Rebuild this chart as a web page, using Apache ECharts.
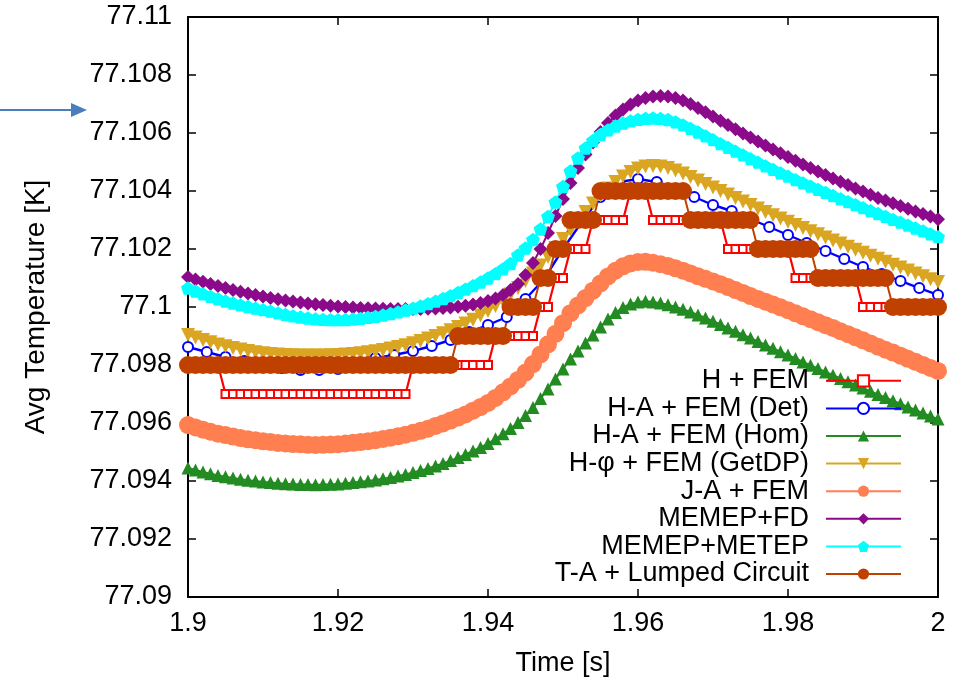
<!DOCTYPE html>
<html>
<head>
<meta charset="utf-8">
<script src="https://cdn.jsdelivr.net/npm/echarts@6/dist/echarts.min.js"></script>
<style>
  html, body { margin: 0; padding: 0; background: #ffffff; }
  #chart { width: 960px; height: 685px; }
</style>
</head>
<body>
<div id="chart"></div>
<script>
// Sample times [s]: 1 ms output step and 2.5 ms output step
const timeFine = [
  1.900, 1.901, 1.902, 1.903, 1.904, 1.905, 1.906, 1.907, 1.908, 1.909,
  1.910, 1.911, 1.912, 1.913, 1.914, 1.915, 1.916, 1.917, 1.918, 1.919,
  1.920, 1.921, 1.922, 1.923, 1.924, 1.925, 1.926, 1.927, 1.928, 1.929,
  1.930, 1.931, 1.932, 1.933, 1.934, 1.935, 1.936, 1.937, 1.938, 1.939,
  1.940, 1.941, 1.942, 1.943, 1.944, 1.945, 1.946, 1.947, 1.948, 1.949,
  1.950, 1.951, 1.952, 1.953, 1.954, 1.955, 1.956, 1.957, 1.958, 1.959,
  1.960, 1.961, 1.962, 1.963, 1.964, 1.965, 1.966, 1.967, 1.968, 1.969,
  1.970, 1.971, 1.972, 1.973, 1.974, 1.975, 1.976, 1.977, 1.978, 1.979,
  1.980, 1.981, 1.982, 1.983, 1.984, 1.985, 1.986, 1.987, 1.988, 1.989,
  1.990, 1.991, 1.992, 1.993, 1.994, 1.995, 1.996, 1.997, 1.998, 1.999,
  2.000
];
const timeCoarse = [
  1.9000, 1.9025, 1.9050, 1.9075, 1.9100, 1.9125, 1.9150, 1.9175, 1.9200, 1.9225,
  1.9250, 1.9275, 1.9300, 1.9325, 1.9350, 1.9375, 1.9400, 1.9425, 1.9450, 1.9475,
  1.9500, 1.9525, 1.9550, 1.9575, 1.9600, 1.9625, 1.9650, 1.9675, 1.9700, 1.9725,
  1.9750, 1.9775, 1.9800, 1.9825, 1.9850, 1.9875, 1.9900, 1.9925, 1.9950, 1.9975,
  2.0000
];

// Average temperature [K] per model
const hFem = [
  77.098, 77.098, 77.098, 77.098, 77.098, 77.097, 77.097, 77.097, 77.097, 77.097,
  77.097, 77.097, 77.097, 77.097, 77.097, 77.097, 77.097, 77.097, 77.097, 77.097,
  77.097, 77.097, 77.097, 77.097, 77.097, 77.097, 77.097, 77.097, 77.097, 77.097,
  77.098, 77.098, 77.098, 77.098, 77.098, 77.098, 77.098, 77.098, 77.098, 77.098,
  77.098, 77.099, 77.099, 77.099, 77.099, 77.099, 77.099, 77.100, 77.100, 77.101,
  77.101, 77.102, 77.102, 77.102, 77.103, 77.103, 77.103, 77.103, 77.103, 77.104,
  77.104, 77.104, 77.103, 77.103, 77.103, 77.103, 77.103, 77.103, 77.103, 77.103,
  77.103, 77.103, 77.102, 77.102, 77.102, 77.102, 77.102, 77.102, 77.102, 77.102,
  77.102, 77.101, 77.101, 77.101, 77.101, 77.101, 77.101, 77.101, 77.101, 77.101,
  77.100, 77.100, 77.100, 77.100, 77.100, 77.100, 77.100, 77.100, 77.100, 77.100,
  77.100
];
const haFemDet = [
  77.098621, 77.098448, 77.098276, 77.098138, 77.098000, 77.097897, 77.097828, 77.097828, 77.097862, 77.098034,
  77.098241, 77.098345, 77.098483, 77.098655, 77.098862, 77.099138, 77.099379, 77.099655, 77.100276, 77.100966,
  77.102000, 77.102931, 77.103793, 77.104310, 77.104414, 77.104310, 77.104069, 77.103793, 77.103517, 77.103310,
  77.103034, 77.102759, 77.102483, 77.102207, 77.101931, 77.101655, 77.101379, 77.101138, 77.100897, 77.100655,
  77.100414
];
const haFemHom = [
  77.094448, 77.094379, 77.094310, 77.094248, 77.094193, 77.094145, 77.094103, 77.094062, 77.094028, 77.093997,
  77.093969, 77.093945, 77.093924, 77.093907, 77.093893, 77.093883, 77.093876, 77.093872, 77.093876, 77.093886,
  77.093900, 77.093921, 77.093945, 77.093972, 77.094003, 77.094038, 77.094079, 77.094124, 77.094172, 77.094228,
  77.094290, 77.094359, 77.094434, 77.094517, 77.094607, 77.094703, 77.094807, 77.094917, 77.095034, 77.095159,
  77.095290, 77.095455, 77.095628, 77.095810, 77.096017, 77.096259, 77.096534, 77.096845, 77.097172, 77.097517,
  77.097862, 77.098207, 77.098483, 77.098759, 77.099034, 77.099310, 77.099586, 77.099810, 77.099983, 77.100103,
  77.100172, 77.100197, 77.100176, 77.100134, 77.100076, 77.100003, 77.099921, 77.099828, 77.099728, 77.099621,
  77.099510, 77.099397, 77.099279, 77.099162, 77.099045, 77.098928, 77.098810, 77.098693, 77.098576, 77.098459,
  77.098341, 77.098224, 77.098107, 77.097990, 77.097876, 77.097762, 77.097648, 77.097534, 77.097424, 77.097314,
  77.097203, 77.097093, 77.096983, 77.096876, 77.096769, 77.096662, 77.096555, 77.096448, 77.096341, 77.096238,
  77.096134
];
const hPhiGetdp = [
  77.099034, 77.098948, 77.098862, 77.098783, 77.098710, 77.098645, 77.098586, 77.098531, 77.098483, 77.098441,
  77.098407, 77.098379, 77.098359, 77.098345, 77.098334, 77.098328, 77.098324, 77.098324, 77.098328, 77.098334,
  77.098345, 77.098362, 77.098383, 77.098407, 77.098438, 77.098476, 77.098517, 77.098566, 77.098621, 77.098683,
  77.098752, 77.098828, 77.098910, 77.099000, 77.099097, 77.099200, 77.099310, 77.099431, 77.099562, 77.099703,
  77.099862, 77.100034, 77.100224, 77.100431, 77.100655, 77.100897, 77.101155, 77.101431, 77.101724, 77.102034,
  77.102345, 77.102655, 77.102966, 77.103276, 77.103569, 77.103845, 77.104086, 77.104310, 77.104500, 77.104655,
  77.104776, 77.104845, 77.104862, 77.104845, 77.104793, 77.104707, 77.104603, 77.104483, 77.104362, 77.104241,
  77.104121, 77.104000, 77.103879, 77.103759, 77.103638, 77.103517, 77.103397, 77.103276, 77.103162, 77.103052,
  77.102941, 77.102831, 77.102721, 77.102614, 77.102507, 77.102400, 77.102293, 77.102186, 77.102079, 77.101976,
  77.101872, 77.101769, 77.101666, 77.101562, 77.101459, 77.101359, 77.101259, 77.101159, 77.101059, 77.100959,
  77.100862
];
const jaFem = [
  77.095928, 77.095849, 77.095770, 77.095698, 77.095633, 77.095585, 77.095533, 77.095482, 77.095438, 77.095407,
  77.095369, 77.095345, 77.095314, 77.095297, 77.095273, 77.095263, 77.095246, 77.095242, 77.095246, 77.095256,
  77.095270, 77.095291, 77.095315, 77.095342, 77.095373, 77.095408, 77.095449, 77.095494, 77.095542, 77.095598,
  77.095660, 77.095729, 77.095804, 77.095897, 77.095987, 77.096083, 77.096187, 77.096297, 77.096424, 77.096549,
  77.096690, 77.096865, 77.097058, 77.097260, 77.097487, 77.097739, 77.098034, 77.098365, 77.098712, 77.099077,
  77.099442, 77.099787, 77.100053, 77.100309, 77.100564, 77.100810, 77.101056, 77.101250, 77.101403, 77.101503,
  77.101552, 77.101557, 77.101526, 77.101474, 77.101416, 77.101333, 77.101251, 77.101158, 77.101058, 77.100971,
  77.100880, 77.100787, 77.100689, 77.100582, 77.100485, 77.100378, 77.100280, 77.100183, 77.100086, 77.099989,
  77.099891, 77.099784, 77.099677, 77.099580, 77.099476, 77.099372, 77.099278, 77.099164, 77.099064, 77.098954,
  77.098853, 77.098743, 77.098633, 77.098526, 77.098429, 77.098322, 77.098215, 77.098108, 77.098001, 77.097898,
  77.097794
];
const memepFd = [
  77.101034, 77.100952, 77.100872, 77.100797, 77.100724, 77.100655, 77.100590, 77.100528, 77.100469, 77.100414,
  77.100362, 77.100314, 77.100269, 77.100228, 77.100190, 77.100155, 77.100124, 77.100093, 77.100066, 77.100041,
  77.100017, 77.099997, 77.099979, 77.099966, 77.099955, 77.099945, 77.099938, 77.099934, 77.099931, 77.099931,
  77.099931, 77.099934, 77.099941, 77.099952, 77.099966, 77.099986, 77.100010, 77.100041, 77.100083, 77.100138,
  77.100207, 77.100293, 77.100414, 77.100586, 77.100793, 77.101103, 77.101517, 77.102000, 77.102552, 77.103138,
  77.103724, 77.104276, 77.104793, 77.105259, 77.105672, 77.106034, 77.106345, 77.106603, 77.106810, 77.106983,
  77.107121, 77.107207, 77.107259, 77.107276, 77.107259, 77.107207, 77.107121, 77.107000, 77.106862, 77.106717,
  77.106569, 77.106421, 77.106272, 77.106128, 77.105983, 77.105841, 77.105703, 77.105569, 77.105434, 77.105303,
  77.105172, 77.105045, 77.104917, 77.104793, 77.104672, 77.104552, 77.104434, 77.104317, 77.104203, 77.104090,
  77.103979, 77.103869, 77.103762, 77.103672, 77.103576, 77.103483, 77.103390, 77.103297, 77.103207, 77.103117,
  77.103028
];
const memepMetep = [
  77.100655, 77.100552, 77.100455, 77.100366, 77.100283, 77.100207, 77.100138, 77.100076, 77.100017, 77.099962,
  77.099910, 77.099855, 77.099797, 77.099741, 77.099697, 77.099655, 77.099621, 77.099593, 77.099576, 77.099566,
  77.099562, 77.099569, 77.099586, 77.099610, 77.099641, 77.099679, 77.099724, 77.099776, 77.099834, 77.099897,
  77.099962, 77.100034, 77.100114, 77.100200, 77.100293, 77.100393, 77.100500, 77.100614, 77.100734, 77.100862,
  77.101000, 77.101152, 77.101317, 77.101500, 77.101793, 77.102034, 77.102328, 77.102690, 77.103121, 77.103621,
  77.104155, 77.104690, 77.105138, 77.105483, 77.105741, 77.105948, 77.106110, 77.106241, 77.106345, 77.106421,
  77.106472, 77.106503, 77.106517, 77.106507, 77.106466, 77.106386, 77.106283, 77.106162, 77.106034, 77.105903,
  77.105769, 77.105634, 77.105503, 77.105372, 77.105245, 77.105117, 77.104993, 77.104869, 77.104748, 77.104628,
  77.104510, 77.104393, 77.104279, 77.104169, 77.104059, 77.103952, 77.103845, 77.103738, 77.103634, 77.103531,
  77.103428, 77.103324, 77.103224, 77.103124, 77.103024, 77.102924, 77.102824, 77.102724, 77.102624, 77.102524,
  77.102424
];
const taLumped = [
  77.098, 77.098, 77.098, 77.098, 77.098, 77.098, 77.098, 77.098, 77.098, 77.098,
  77.098, 77.098, 77.098, 77.098, 77.098, 77.098, 77.098, 77.098, 77.098, 77.098,
  77.098, 77.098, 77.098, 77.098, 77.098, 77.098, 77.098, 77.098, 77.098, 77.098,
  77.098, 77.098, 77.098, 77.098, 77.098, 77.098, 77.099, 77.099, 77.099, 77.099,
  77.099, 77.099, 77.099, 77.100, 77.100, 77.100, 77.100, 77.101, 77.101, 77.102,
  77.102, 77.103, 77.103, 77.103, 77.103, 77.104, 77.104, 77.104, 77.104, 77.104,
  77.104, 77.104, 77.104, 77.104, 77.104, 77.104, 77.104, 77.103, 77.103, 77.103,
  77.103, 77.103, 77.103, 77.103, 77.103, 77.103, 77.102, 77.102, 77.102, 77.102,
  77.102, 77.102, 77.102, 77.102, 77.101, 77.101, 77.101, 77.101, 77.101, 77.101,
  77.101, 77.101, 77.101, 77.101, 77.100, 77.100, 77.100, 77.100, 77.100, 77.100,
  77.100
];

// Axis ticks
const xTickLabels = ['1.9', '1.92', '1.94', '1.96', '1.98', '2'];
const yTickLabels = ['77.09', '77.092', '77.094', '77.096', '77.098', '77.1',
                     '77.102', '77.104', '77.106', '77.108', '77.11'];
const X_MIN = 1.9, X_MAX = 2.0, X_STEP = 0.02;
const Y_MIN = 77.09, Y_MAX = 77.11, Y_STEP = 0.002;

const FONT = '"Liberation Sans", Arial, Helvetica, sans-serif';
const pentagon = 'path://M0,-1L0.951,-0.309L0.588,0.809L-0.588,0.809L-0.951,-0.309Z';

function pairs(times, values) {
  return times.map((t, i) => [t, values[i]]);
}

const seriesDefs = [
  { name: 'H + FEM', times: timeFine, values: hFem, color: '#ff0000',
    symbol: 'emptyRect', size: 8, lw: 2.2, border: 2 },
  { name: 'H-A + FEM (Det)', times: timeCoarse, values: haFemDet, color: '#0000ff',
    symbol: 'emptyCircle', size: 10, lw: 2.4, border: 2.4 },
  { name: 'H-A + FEM (Hom)', times: timeFine, values: haFemHom, color: '#228b22',
    symbol: 'triangle', size: 13, lw: 2 },
  { name: 'H-\u03c6 + FEM (GetDP)', times: timeFine, values: hPhiGetdp, color: '#daa520',
    symbol: 'triangle', rotate: 180, size: 14, lw: 2 },
  { name: 'J-A + FEM', times: timeFine, values: jaFem, color: '#ff7f50',
    symbol: 'circle', size: 18, lw: 2 },
  { name: 'MEMEP+FD', times: timeFine, values: memepFd, color: '#8b0a8b',
    symbol: 'diamond', size: 14, lw: 2 },
  { name: 'MEMEP+METEP', times: timeFine, values: memepMetep, color: '#00ffff',
    symbol: pentagon, size: 14, lw: 2 },
  { name: 'T-A + Lumped Circuit', times: timeFine, values: taLumped, color: '#c04000',
    symbol: 'circle', size: 18, lw: 2 }
];

const series = seriesDefs.map(d => ({
  name: d.name,
  type: 'line',
  data: pairs(d.times, d.values),
  xAxisIndex: 0,
  yAxisIndex: 0,
  symbol: d.symbol,
  symbolSize: d.size,
  symbolRotate: d.rotate || 0,
  symbolKeepAspect: true,
  showSymbol: true,
  showAllSymbol: true,
  color: d.color,
  itemStyle: { color: d.color, borderColor: d.color, borderWidth: d.border || 0 },
  lineStyle: { color: d.color, width: d.lw },
  emphasis: { disabled: true },
  animation: false
}));

function tickLabel(labels, min, step) {
  return v => {
    const k = Math.round((v - min) / step);
    return labels[k] !== undefined ? labels[k] : '';
  };
}

const axisLineStyle = { show: true, onZero: false, lineStyle: { color: '#000', width: 2 } };
const tickStyle = { show: true, inside: true, length: 8, lineStyle: { color: '#000', width: 1.5 } };

const option = {
  backgroundColor: '#ffffff',
  animation: false,
  textStyle: { fontFamily: FONT },
  grid: { left: 188, right: 22, top: 17, bottom: 88, containLabel: false },
  xAxis: [
    {
      type: 'value', position: 'bottom', min: X_MIN, max: X_MAX, interval: X_STEP,
      axisLine: axisLineStyle, axisTick: tickStyle, splitLine: { show: false },
      axisLabel: { fontSize: 27, color: '#000', fontFamily: FONT, margin: 13,
                   formatter: tickLabel(xTickLabels, X_MIN, X_STEP) },
      name: 'Time [s]', nameLocation: 'middle', nameGap: 53,
      nameTextStyle: { fontSize: 27, color: '#000', fontFamily: FONT }
    },
    {
      type: 'value', position: 'top', min: X_MIN, max: X_MAX, interval: X_STEP,
      axisLine: axisLineStyle, axisTick: tickStyle, splitLine: { show: false },
      axisLabel: { show: false }
    }
  ],
  yAxis: [
    {
      type: 'value', position: 'left', min: Y_MIN, max: Y_MAX, interval: Y_STEP,
      axisLine: axisLineStyle, axisTick: tickStyle, splitLine: { show: false },
      axisLabel: { fontSize: 27, color: '#000', fontFamily: FONT, margin: 16,
                   formatter: tickLabel(yTickLabels, Y_MIN, Y_STEP) },
      name: 'Avg Temperature [K]', nameLocation: 'middle', nameGap: 138, nameRotate: 90,
      nameTextStyle: { fontSize: 28, color: '#000', fontFamily: FONT }
    },
    {
      type: 'value', position: 'right', min: Y_MIN, max: Y_MAX, interval: Y_STEP,
      axisLine: axisLineStyle, axisTick: tickStyle, splitLine: { show: false },
      axisLabel: { show: false }
    }
  ],
  legend: {
    orient: 'vertical',
    right: 58,
    top: 367,
    align: 'right',
    padding: 0,
    itemGap: 0,
    itemWidth: 75,
    itemHeight: 14,
    selectedMode: false,
    textStyle: { fontSize: 27, color: '#000', fontFamily: FONT, lineHeight: 27.6,
                 padding: [0, 12, 0, 0] },
    data: seriesDefs.map(d => d.name)
  },
  graphic: [
    { type: 'line', silent: true, shape: { x1: 0, y1: 110, x2: 76, y2: 110 },
      style: { stroke: '#4a7ebb', lineWidth: 2 } },
    { type: 'polygon', silent: true, shape: { points: [[71, 103], [87, 110], [71, 117]] },
      style: { fill: '#4a7ebb' } }
  ],
  series: series
};

const chart = echarts.init(document.getElementById('chart'), null, { renderer: 'canvas' });
chart.setOption(option);
</script>
</body>
</html>
